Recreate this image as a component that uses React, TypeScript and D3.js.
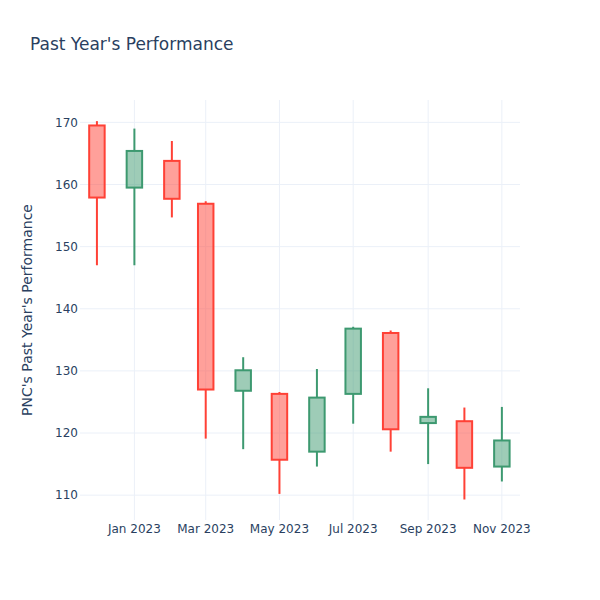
import React from "react";
import * as d3 from "d3";

// monthly candles for PNC, first of each month
const months = [
  "2022-12-01", "2023-01-01", "2023-02-01", "2023-03-01", "2023-04-01", "2023-05-01",
  "2023-06-01", "2023-07-01", "2023-08-01", "2023-09-01", "2023-10-01", "2023-11-01",
];
const opens = [169.5, 159.5, 163.8, 156.9, 126.8, 126.3, 117.0, 126.3, 136.1, 121.6, 121.9, 114.6];
const highs = [170.2, 169.0, 167.0, 157.3, 132.2, 126.6, 130.3, 137.1, 136.5, 127.2, 124.1, 124.2];
const lows = [147.0, 147.0, 154.7, 119.1, 117.4, 110.2, 114.6, 121.5, 117.0, 115.0, 109.3, 112.2];
const closes = [157.9, 165.4, 157.7, 127.0, 130.1, 115.7, 125.7, 136.8, 120.6, 122.6, 114.4, 118.8];

const yTicks = [110, 120, 130, 140, 150, 160, 170];
const xTicks = ["2023-01-01", "2023-03-01", "2023-05-01", "2023-07-01", "2023-09-01", "2023-11-01"];

const title = "Past Year's Performance";
const yTitle = "PNC's Past Year's Performance";

const width = 600;
const height = 600;
const margin = { top: 100, right: 80, bottom: 80, left: 80 };
const font = "'DejaVu Sans', Verdana, sans-serif";
const textColor = "#2a3f5f";
const gridColor = "#EBF0F8";
const upLine = "#3D9970";
const downLine = "#FF4136";

const parse = d3.utcParse("%Y-%m-%d");
const DAY = 24 * 3600 * 1000;

export default function App() {
  const x = d3
    .scaleUtc()
    .domain([parse("2022-11-17")!, parse("2023-11-16")!])
    .range([margin.left, width - margin.right]);
  const y = d3
    .scaleLinear()
    .domain([106, 173.6])
    .range([height - margin.bottom, margin.top]);

  const fmt = d3.utcFormat("%b %Y");
  const candles = months.map((m, i) => ({
    date: parse(m)!,
    open: opens[i],
    high: highs[i],
    low: lows[i],
    close: closes[i],
  }));

  return (
    <svg
      width={width}
      height={height}
      style={{ position: "absolute", left: 0, top: 0, background: "#fff" }}
      fontFamily={font}
    >
      {/* grid */}
      <g stroke={gridColor} strokeWidth={1}>
        {xTicks.map((t) => (
          <line key={t} x1={x(parse(t)!)} x2={x(parse(t)!)} y1={margin.top} y2={height - margin.bottom} />
        ))}
        {yTicks.map((t) => (
          <line key={t} x1={margin.left} x2={width - margin.right} y1={y(t)} y2={y(t)} />
        ))}
      </g>

      {/* candles */}
      <g>
        {candles.map((c) => {
          const up = c.close >= c.open;
          const stroke = up ? upLine : downLine;
          const cx = x(c.date);
          const half = x(new Date(c.date.getTime() + 6.4 * DAY)) - cx;
          const top = y(Math.max(c.open, c.close));
          const bot = y(Math.min(c.open, c.close));
          return (
            <g key={c.date.toISOString()} stroke={stroke} strokeWidth={2}>
              <line x1={cx} x2={cx} y1={y(c.high)} y2={top} />
              <line x1={cx} x2={cx} y1={bot} y2={y(c.low)} />
              <rect
                x={cx - half}
                y={top}
                width={half * 2}
                height={Math.max(bot - top, 0.5)}
                fill={stroke}
                fillOpacity={0.5}
              />
            </g>
          );
        })}
      </g>

      {/* y tick labels */}
      <g fill={textColor} fontSize={12} textAnchor="end">
        {yTicks.map((t) => (
          <text key={t} x={margin.left - 2} y={y(t)} dy="0.35em">
            {t}
          </text>
        ))}
      </g>

      {/* x tick labels */}
      <g fill={textColor} fontSize={12} textAnchor="middle">
        {xTicks.map((t) => (
          <text key={t} x={x(parse(t)!)} y={height - margin.bottom + 13}>
            {fmt(parse(t)!)}
          </text>
        ))}
      </g>

      <text
        transform={`translate(32,${(margin.top + height - margin.bottom) / 2}) rotate(-90)`}
        textAnchor="middle"
        fill={textColor}
        fontSize={14}
      >
        {yTitle}
      </text>

      <text x={30} y={50} fill={textColor} fontSize={17}>
        {title}
      </text>
    </svg>
  );
}
